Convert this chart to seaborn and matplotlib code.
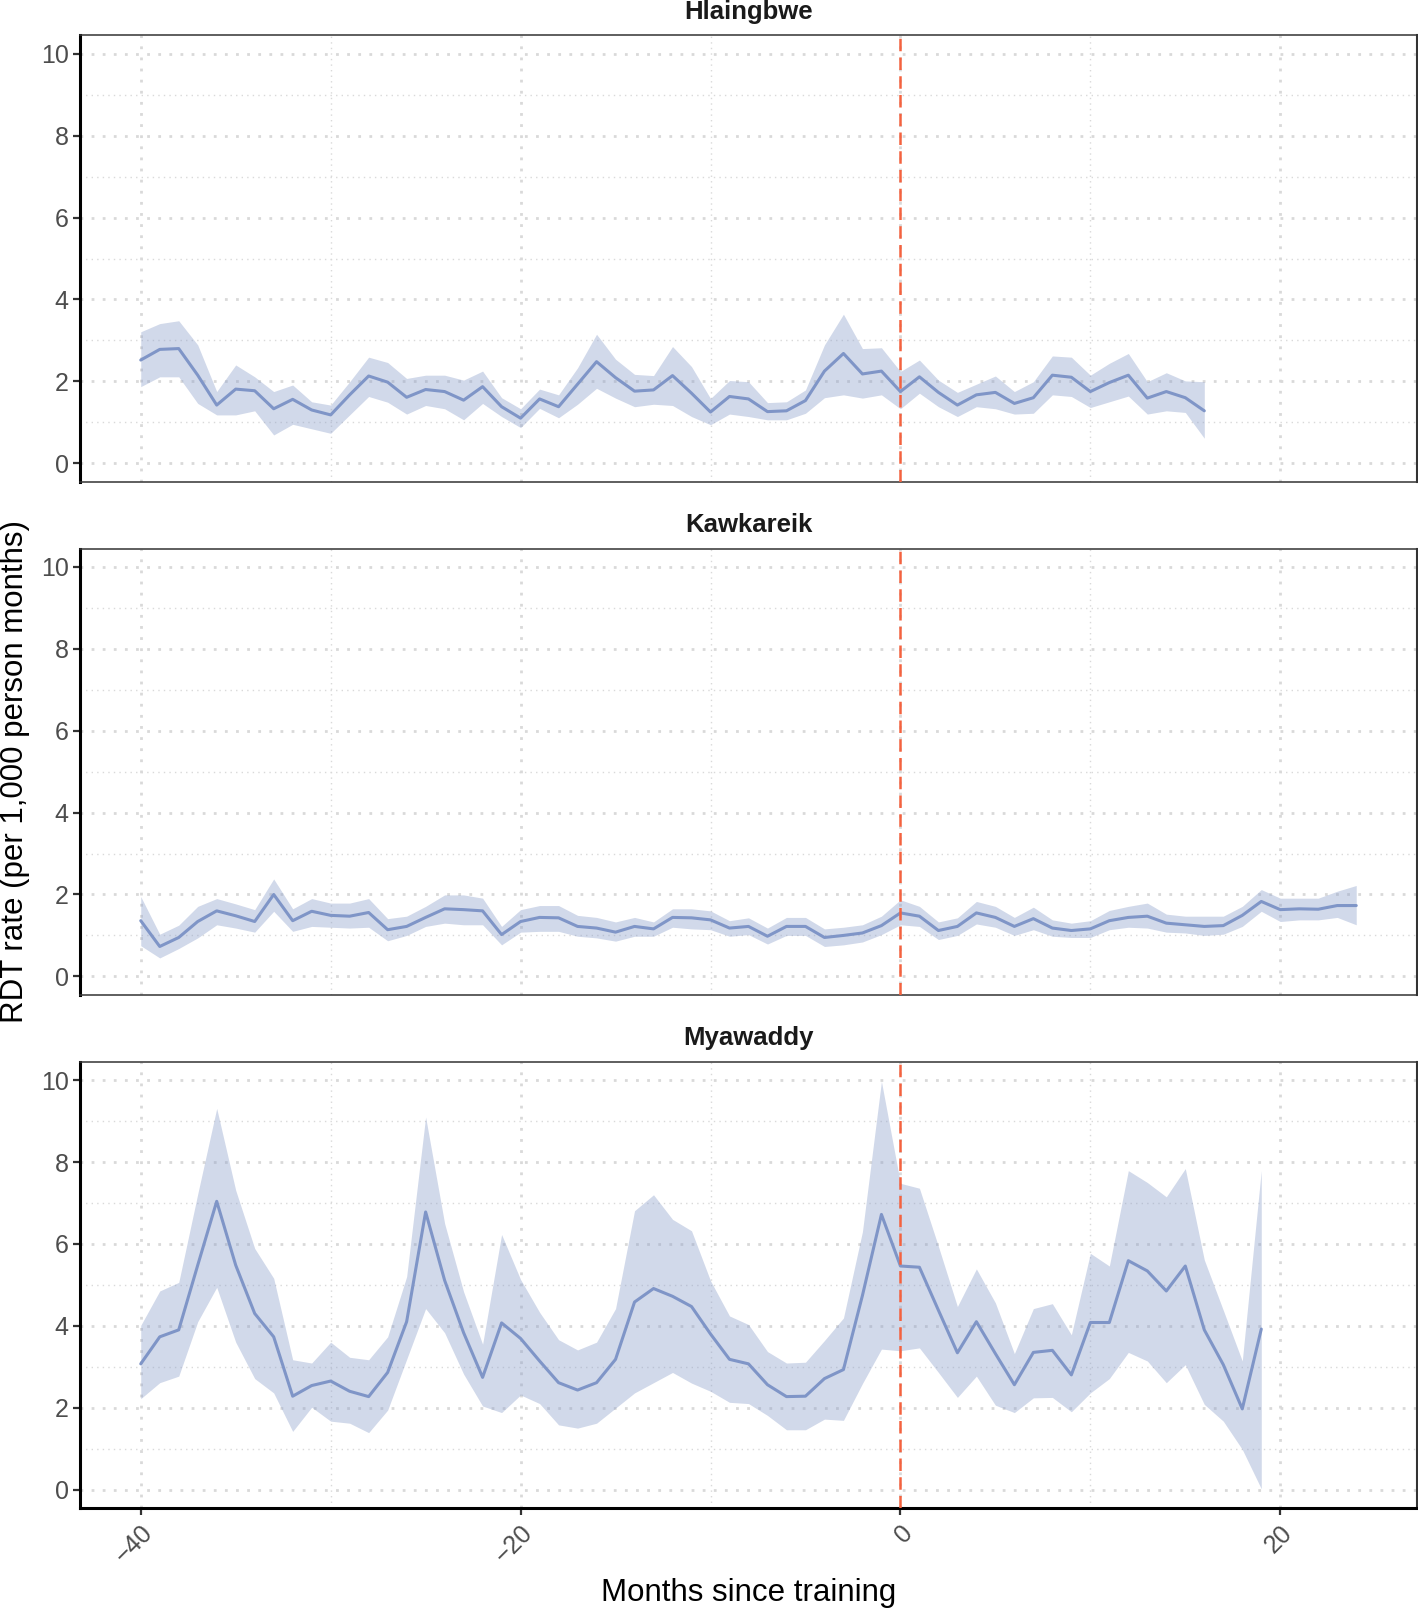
import numpy as np
import pandas as pd
import matplotlib
matplotlib.use("Agg")
import matplotlib.pyplot as plt
from matplotlib.ticker import MultipleLocator
import seaborn as sns

sites = ["Hlaingbwe", "Kawkareik", "Myawaddy"]

hla_months = list(range(-40, 17))
hla_rate = [2.52, 2.78, 2.80, 2.15, 1.42, 1.81, 1.77, 1.33, 1.56, 1.30,
            1.18, 1.67, 2.13, 1.98, 1.61, 1.80, 1.75, 1.54, 1.87, 1.38,
            1.10, 1.57, 1.38, 1.93, 2.48, 2.09, 1.76, 1.79, 2.14, 1.71,
            1.25, 1.63, 1.57, 1.26, 1.28, 1.53, 2.25, 2.68, 2.18, 2.25,
            1.75, 2.11, 1.73, 1.42, 1.67, 1.73, 1.46, 1.60, 2.15, 2.10,
            1.75, 1.97, 2.15, 1.59, 1.75, 1.60, 1.28]
hla_upper = [3.21, 3.41, 3.48, 2.89, 1.75, 2.40, 2.11, 1.75, 1.91, 1.50,
             1.42, 1.99, 2.59, 2.46, 2.07, 2.15, 2.15, 2.03, 2.25, 1.60,
             1.33, 1.81, 1.67, 2.33, 3.15, 2.54, 2.17, 2.14, 2.85, 2.36,
             1.58, 2.02, 1.99, 1.48, 1.50, 1.79, 2.89, 3.64, 2.80, 2.82,
             2.24, 2.52, 2.03, 1.73, 1.93, 2.13, 1.75, 1.99, 2.62, 2.59,
             2.15, 2.44, 2.68, 1.99, 2.21, 2.01, 1.99]
hla_lower = [1.87, 2.11, 2.11, 1.46, 1.18, 1.18, 1.28, 0.69, 0.95, 0.84,
             0.73, 1.18, 1.63, 1.49, 1.20, 1.41, 1.33, 1.06, 1.46, 1.14,
             0.87, 1.34, 1.11, 1.44, 1.83, 1.59, 1.38, 1.44, 1.41, 1.14,
             0.94, 1.20, 1.14, 1.06, 1.06, 1.22, 1.60, 1.67, 1.59, 1.67,
             1.33, 1.71, 1.38, 1.14, 1.38, 1.33, 1.20, 1.22, 1.67, 1.63,
             1.36, 1.50, 1.64, 1.20, 1.28, 1.24, 0.61]

kaw_months = list(range(-40, 25))
kaw_rate = [1.36, 0.73, 0.95, 1.34, 1.60, 1.48, 1.34, 2.00, 1.36, 1.59,
            1.49, 1.47, 1.56, 1.14, 1.22, 1.44, 1.65, 1.63, 1.60, 1.02,
            1.34, 1.44, 1.43, 1.22, 1.18, 1.08, 1.22, 1.16, 1.44, 1.43,
            1.38, 1.18, 1.22, 0.98, 1.22, 1.22, 0.95, 1.00, 1.06, 1.24,
            1.55, 1.47, 1.12, 1.22, 1.55, 1.44, 1.22, 1.41, 1.18, 1.12,
            1.16, 1.36, 1.44, 1.47, 1.30, 1.26, 1.22, 1.24, 1.49, 1.83,
            1.63, 1.65, 1.64, 1.73, 1.73]
kaw_upper = [1.95, 1.03, 1.25, 1.71, 1.90, 1.77, 1.63, 2.38, 1.65, 1.90,
             1.79, 1.79, 1.90, 1.41, 1.47, 1.71, 1.99, 1.99, 1.91, 1.22,
             1.63, 1.73, 1.73, 1.49, 1.44, 1.33, 1.44, 1.33, 1.65, 1.65,
             1.60, 1.36, 1.43, 1.18, 1.44, 1.44, 1.16, 1.20, 1.26, 1.47,
             1.87, 1.71, 1.33, 1.43, 1.83, 1.71, 1.44, 1.69, 1.38, 1.30,
             1.36, 1.61, 1.71, 1.79, 1.52, 1.47, 1.47, 1.47, 1.71, 2.12,
             1.91, 1.91, 1.91, 2.08, 2.22]
kaw_lower = [0.75, 0.45, 0.68, 0.94, 1.26, 1.18, 1.08, 1.59, 1.10, 1.22,
             1.20, 1.18, 1.20, 0.87, 1.00, 1.22, 1.30, 1.26, 1.26, 0.77,
             1.08, 1.10, 1.10, 0.98, 0.94, 0.86, 0.98, 0.98, 1.20, 1.16,
             1.14, 0.98, 1.02, 0.79, 1.00, 1.00, 0.73, 0.77, 0.84, 1.02,
             1.26, 1.22, 0.90, 1.00, 1.28, 1.20, 1.00, 1.14, 0.98, 0.95,
             0.95, 1.14, 1.20, 1.18, 1.08, 1.06, 1.00, 1.03, 1.22, 1.59,
             1.34, 1.38, 1.38, 1.44, 1.26]

mya_months = list(range(-40, 20))
mya_rate = [3.07, 3.73, 3.90, 5.48, 7.04, 5.48, 4.30, 3.73, 2.28, 2.54,
            2.65, 2.40, 2.27, 2.86, 4.10, 6.78, 5.11, 3.83, 2.74, 4.07,
            3.69, 3.14, 2.61, 2.43, 2.61, 3.18, 4.58, 4.91, 4.72, 4.47,
            3.80, 3.18, 3.07, 2.56, 2.27, 2.28, 2.71, 2.93, 4.74, 6.72,
            5.46, 5.43, 4.38, 3.34, 4.10, 3.32, 2.56, 3.35, 3.40, 2.80,
            4.08, 4.08, 5.59, 5.34, 4.85, 5.46, 3.90, 3.05, 1.97, 3.92]
mya_upper = [4.01, 4.85, 5.06, 7.22, 9.31, 7.31, 5.89, 5.16, 3.17, 3.09,
             3.60, 3.23, 3.17, 3.73, 5.20, 9.10, 6.50, 4.83, 3.55, 6.23,
             5.13, 4.33, 3.66, 3.41, 3.60, 4.42, 6.81, 7.20, 6.60, 6.32,
             5.10, 4.24, 4.03, 3.37, 3.09, 3.11, 3.64, 4.19, 6.30, 9.97,
             7.48, 7.36, 5.94, 4.47, 5.39, 4.56, 3.32, 4.42, 4.54, 3.78,
             5.77, 5.46, 7.79, 7.50, 7.15, 7.84, 5.61, 4.38, 3.14, 7.79]
mya_lower = [2.22, 2.61, 2.77, 4.10, 4.94, 3.60, 2.71, 2.36, 1.42, 2.01,
             1.67, 1.62, 1.39, 1.94, 3.18, 4.42, 3.83, 2.82, 2.04, 1.88,
             2.31, 2.10, 1.58, 1.50, 1.62, 1.99, 2.36, 2.61, 2.86, 2.60,
             2.40, 2.13, 2.10, 1.81, 1.46, 1.46, 1.72, 1.69, 2.59, 3.43,
             3.39, 3.46, 2.86, 2.25, 2.77, 2.06, 1.88, 2.24, 2.25, 1.90,
             2.36, 2.71, 3.35, 3.14, 2.61, 3.05, 2.08, 1.67, 0.98, 0.02]

frames = []
for name, m, r, lo, up in [
    ("Hlaingbwe", hla_months, hla_rate, hla_lower, hla_upper),
    ("Kawkareik", kaw_months, kaw_rate, kaw_lower, kaw_upper),
    ("Myawaddy", mya_months, mya_rate, mya_lower, mya_upper),
]:
    frames.append(pd.DataFrame({"site": name, "month": m, "rate": r,
                                "lower": lo, "upper": up}))
df = pd.concat(frames, ignore_index=True)

sns.set_theme(style="white")
plt.rcParams["font.family"] = ["Liberation Sans", "DejaVu Sans"]

line_col = "#7F95C7"
band_col = "#8DA0CB"
red = "#F4623F"
grid_col = "#D9D9D9"

fig, axes = plt.subplots(3, 1, figsize=(14.18, 16.09), dpi=100, sharex=True)
fig.subplots_adjust(left=0.0564, right=0.9993, top=0.978, bottom=0.0628, hspace=0.15)

for ax, site in zip(axes, sites):
    d = df[df["site"] == site]
    ax.fill_between(d["month"], d["lower"], d["upper"], color=band_col,
                    alpha=0.4, lw=0, zorder=2)
    sns.lineplot(data=d, x="month", y="rate", ax=ax, color=line_col,
                 lw=2.2, zorder=3)
    ax.axvline(0, color=red, lw=1.8, ls=(0, (5, 2.5)), zorder=4)

    ax.set_xlim(-43.2, 27.2)
    ax.set_ylim(-0.45, 10.45)
    ax.xaxis.set_major_locator(MultipleLocator(20))
    ax.xaxis.set_minor_locator(MultipleLocator(10))
    ax.yaxis.set_major_locator(MultipleLocator(2))
    ax.yaxis.set_minor_locator(MultipleLocator(1))
    ax.grid(which="major", color=grid_col, lw=2.0, ls=(0, (1, 3)), zorder=0)
    ax.grid(which="minor", color=grid_col, lw=1.0, ls=(0, (1, 3)), zorder=0)
    ax.set_axisbelow(True)

    ax.set_title(site, fontsize=18.5, fontweight="bold", pad=12, color="#1a1a1a")
    ax.set_xlabel("")
    ax.set_ylabel("")

    for s in ["top", "bottom"]:
        ax.spines[s].set_color("#333333")
        ax.spines[s].set_linewidth(1.1)
    ax.spines["right"].set_color("#333333")
    ax.spines["right"].set_linewidth(1.5)
    ax.spines["left"].set_color("black")
    ax.spines["left"].set_linewidth(2.2)

    ax.tick_params(axis="y", which="major", left=True, length=5, width=1.6,
                   color="#333333", labelsize=18, labelcolor="#4D4D4D", pad=3)
    ax.tick_params(which="minor", length=0)
    ax.tick_params(axis="x", which="major", bottom=False, labelbottom=False)

bottom = axes[-1]
bottom.spines["bottom"].set_color("black")
bottom.spines["bottom"].set_linewidth(2.2)
bottom.tick_params(axis="x", which="major", bottom=True, labelbottom=True,
                   length=5, width=1.6, color="#333333", labelsize=18,
                   labelcolor="#4D4D4D", pad=4)
for lab in bottom.get_xticklabels():
    lab.set_rotation(45)
    lab.set_ha("right")
    lab.set_rotation_mode("anchor")

fig.text(0.0105, 0.5205, "RDT rate (per 1,000 person months)", rotation=90,
         ha="center", va="center", fontsize=22.5, color="black")
fig.text(749 / 1418, 1 - 1593 / 1609, "Months since training",
         ha="center", va="center", fontsize=22.5, color="black")

fig.savefig("out.png", dpi=100)
